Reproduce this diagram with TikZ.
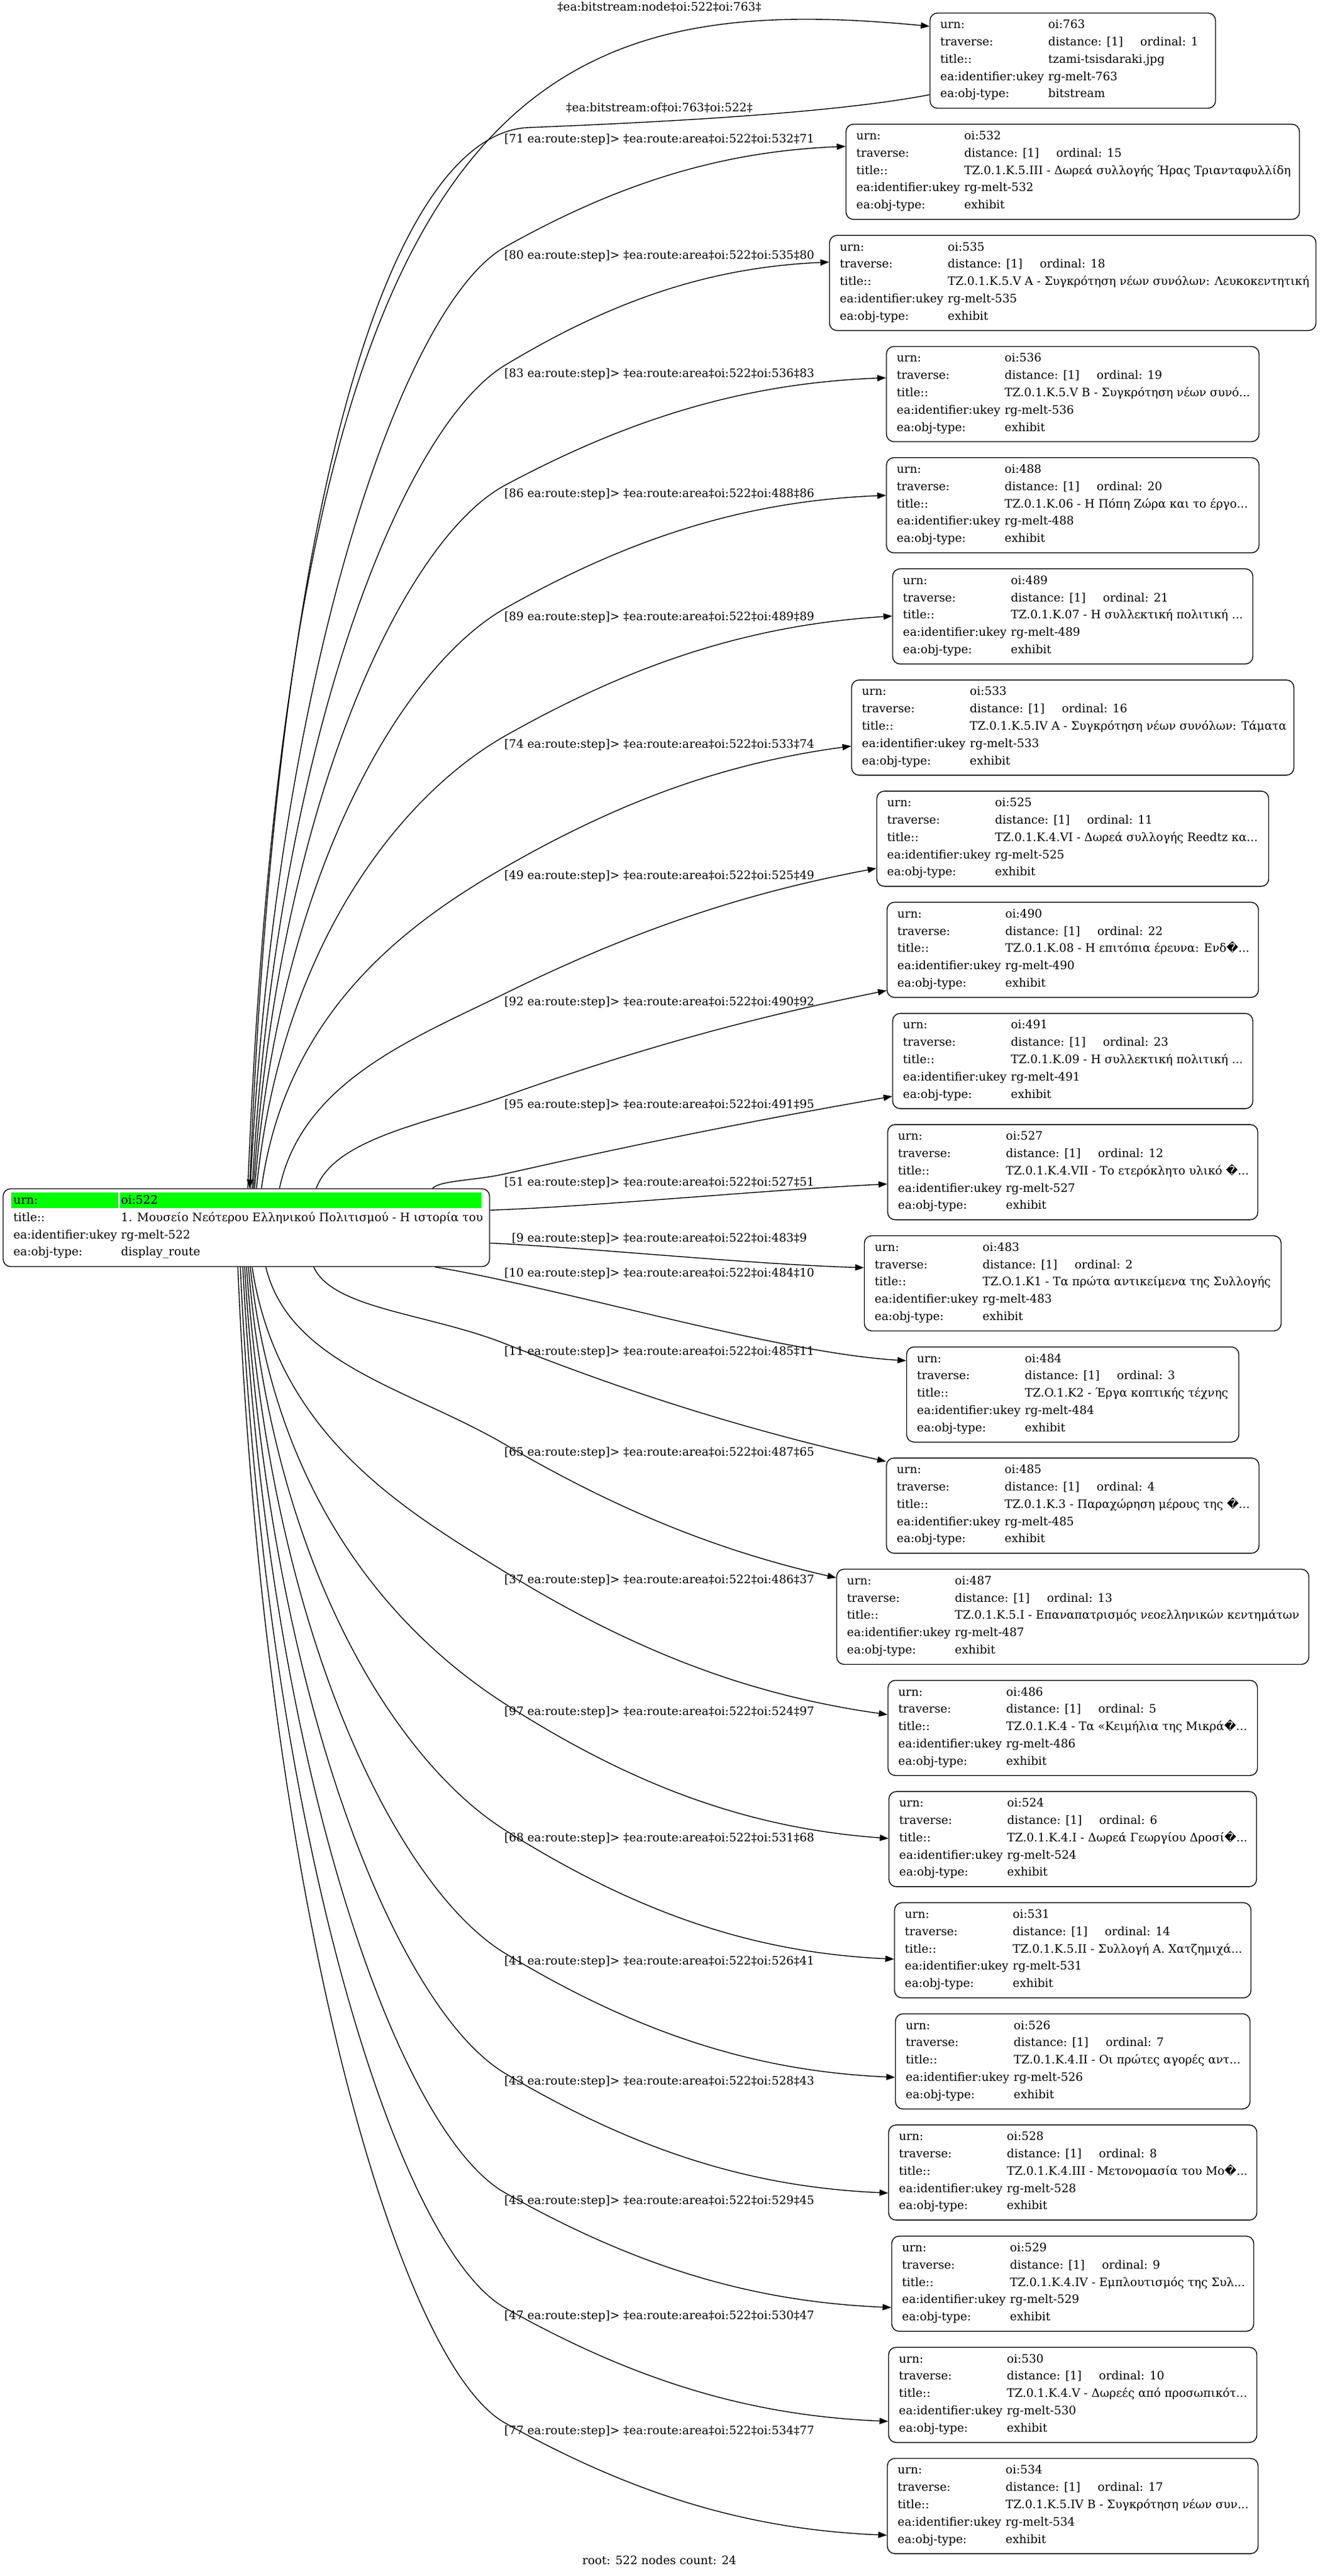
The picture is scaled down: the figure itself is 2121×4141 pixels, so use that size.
\documentclass[tikz,border=0pt]{standalone}
\usepackage{fontspec}
\setmainfont{DejaVu Serif}
\newfontfamily\repfont{DejaVu Sans}
\usetikzlibrary{arrows.meta,calc}
\definecolor{greencell}{RGB}{0,255,0}
\newcommand\rep{{\repfont\char"FFFD}}
\newcommand\nf{\fontsize{9.33pt}{11pt}\selectfont}
% one record node: #1 id, #2 top (px), #3 width (px), #4 ordinal, #5 title, #6 type
\newcommand\mkchild[6]{%
  \node[recbox, minimum width={#3*0.5pt}] (n#1) at (1724.5,{#2+76.5}) {};
  \node[txt] (n#1a) at ($(n#1.north west)+(17,25.5)$) {urn:};
  \node[txt] (n#1b) at ($(n#1.north west)+(190.5,25.5)$) {oi:#1};
  \node[txt] (n#1c) at ($(n#1.north west)+(17,53.3)$) {traverse:};
  \node[txt] (n#1d) at ($(n#1.north west)+(190.5,53.3)$) {distance: [1]};
  \node[txt] (n#1e) at ($(n#1.north west)+(338.5,53.3)$) {ordinal: #4};
  \node[txt] (n#1f) at ($(n#1.north west)+(17,81.1)$) {title::};
  \node[txt] (n#1g) at ($(n#1.north west)+(190.5,81.1)$) {#5};
  \node[txt] (n#1h) at ($(n#1.north west)+(17,108.9)$) {ea:identifier:ukey};
  \node[txt] (n#1i) at ($(n#1.north west)+(190.5,108.9)$) {rg-melt-#1};
  \node[txt] (n#1j) at ($(n#1.north west)+(17,136.7)$) {ea:obj-type:};
  \node[txt] (n#1k) at ($(n#1.north west)+(190.5,136.7)$) {#6};
}
% curved connector: #1 start, #2 end, #3 y (px) where it crosses x=812px
\newcommand\gedge[3]{%
  \draw[conn] let \p1=(#1), \p2=(#2), \p3=(406pt,{-0.5pt*#3}),
     \n1={((\y2)-(\y3))/((\x2)-(\x3))},
     \n2={min(1,abs((\y2)-(\y1))/500)},
     \n3={\n1*(1+0.9*\n2)},
     \n4={\n1*(1-0.86*\n2)} in
    (#1) .. controls ({\x1+0.1*((\x3)-(\x1))},{\y1+0.55*((\y3)-(\y1))})
            and ({\x3-0.4*((\x3)-(\x1))},{\y3-0.4*((\x3)-(\x1))*\n3}) .. (\p3)
         .. controls ({\x3+0.35*((\x2)-(\x3))},{\y3+0.35*((\x2)-(\x3))*\n3})
            and ({\x2-0.35*((\x2)-(\x3))},{\y2-0.35*((\x2)-(\x3))*\n4}) .. (#2);
}
\begin{document}
\begin{tikzpicture}[x=0.5pt,y=-0.5pt,
  recbox/.style={draw, line width=0.7pt, rounded corners=6pt, inner sep=0pt, minimum height=76.5pt},
  txt/.style={anchor=base west, inner sep=0pt, font=\nf},
  lbl/.style={anchor=base, inner sep=0pt, font=\nf},
  conn/.style={draw, line width=0.7pt, -{Triangle[length=7pt,width=5pt]}}]
\fill[white] (0,0) rectangle (2121,4141);
\useasboundingbox (0,0) rectangle (2121,4141);

% root record
\node[recbox, minimum width=391pt, minimum height=62.5pt] (root) at (396,1973.5) {};
\fill[greencell] ($(root.north west)+(14,7)$) rectangle ($(root.north west)+(186,32)$);
\fill[greencell] ($(root.north west)+(189,7)$) rectangle ($(root.north west)+(770,32)$);
\node[txt] (r1) at ($(root.north west)+(17,25.5)$) {urn:};
\node[txt] (r2) at ($(root.north west)+(190,25.5)$) {oi:522};
\node[txt] (r3) at ($(root.north west)+(17,53.2)$) {title::};
\node[txt] (r4) at ($(root.north west)+(190,53.2)$) {1. Μουσείο Νεότερου Ελληνικού Πολιτισμού - Η ιστορία του};
\node[txt] (r5) at ($(root.north west)+(17,80.9)$) {ea:identifier:ukey};
\node[txt] (r6) at ($(root.north west)+(190,80.9)$) {rg-melt-522};
\node[txt] (r7) at ($(root.north west)+(17,108.6)$) {ea:obj-type:};
\node[txt] (r8) at ($(root.north west)+(190,108.6)$) {display\_route};

% child records
\mkchild{763}{21.0}{459}{1}{tzami-tsisdaraki.jpg}{bitstream}
\mkchild{532}{199.7}{729}{15}{TZ.0.1.K.5.III - Δωρεά συλλογής Ήρας Τριανταφυλλίδη}{exhibit}
\mkchild{535}{378.4}{782}{18}{TZ.0.1.K.5.V A - Συγκρότηση νέων συνόλων: Λευκοκεντητική}{exhibit}
\mkchild{536}{557.0}{599}{19}{TZ.0.1.K.5.V B - Συγκρότηση νέων συνό...}{exhibit}
\mkchild{488}{735.7}{599}{20}{TZ.0.1.K.06 - Η Πόπη Ζώρα και το έργο...}{exhibit}
\mkchild{489}{914.4}{579}{21}{TZ.0.1.K.07 - Η συλλεκτική πολιτική ...}{exhibit}
\mkchild{533}{1093.1}{711}{16}{TZ.0.1.K.5.IV A - Συγκρότηση νέων συνόλων: Τάματα}{exhibit}
\mkchild{525}{1271.8}{630}{11}{TZ.0.1.K.4.VI - Δωρεά συλλογής Reedtz κα...}{exhibit}
\mkchild{490}{1450.4}{597}{22}{TZ.0.1.K.08 - Η επιτόπια έρευνα: Ενδ\rep...}{exhibit}
\mkchild{491}{1629.1}{579}{23}{TZ.0.1.K.09 - Η συλλεκτική πολιτική ...}{exhibit}
\mkchild{527}{1807.8}{595}{12}{TZ.0.1.K.4.VII - Το ετερόκλητο υλικό \rep...}{exhibit}
\mkchild{483}{1986.5}{670}{2}{TZ.O.1.K1 - Τα πρώτα αντικείμενα της Συλλογής}{exhibit}
\mkchild{484}{2165.2}{534}{3}{TZ.O.1.K2 - Έργα κοπτικής τέχνης}{exhibit}
\mkchild{485}{2343.8}{599}{4}{TZ.0.1.K.3 - Παραχώρηση μέρους της \rep...}{exhibit}
\mkchild{487}{2522.5}{759}{13}{TZ.0.1.K.5.I - Επαναπατρισμός νεοελληνικών κεντημάτων}{exhibit}
\mkchild{486}{2701.2}{594}{5}{TZ.0.1.K.4 - Τα «Κειμήλια της Μικρά\rep...}{exhibit}
\mkchild{524}{2879.9}{591}{6}{TZ.0.1.K.4.I - Δωρεά Γεωργίου Δροσί\rep...}{exhibit}
\mkchild{531}{3058.6}{573}{14}{TZ.0.1.K.5.II - Συλλογή Α. Χατζημιχά...}{exhibit}
\mkchild{526}{3237.2}{570}{7}{TZ.0.1.K.4.II - Οι πρώτες αγορές αντ...}{exhibit}
\mkchild{528}{3415.9}{592}{8}{TZ.0.1.K.4.III - Μετονομασία του Μο\rep...}{exhibit}
\mkchild{529}{3594.6}{582}{9}{TZ.0.1.K.4.IV - Εμπλουτισμός της Συλ...}{exhibit}
\mkchild{530}{3773.3}{592}{10}{TZ.0.1.K.4.V - Δωρεές από προσωπικότ...}{exhibit}
\mkchild{534}{3952.0}{596}{17}{TZ.0.1.K.5.IV B - Συγκρότηση νέων συν...}{exhibit}

% connectors
\draw[conn] ($(root.north west)+(394,0)$) .. controls (470,150) and (850,-20) .. ($(n763.north west)+(0,22)$);
\draw[conn] ($(n763.north west)+(0,132)$) .. controls (1350,180) and (1100,195) .. (850,205)
   .. controls (650,213) and (450,700) .. ($(root.north west)+(397,0)$);
\gedge{$(root.north west)+(398,0)$}{$(n532.north west)+(0,36.3)$}{397}
\gedge{$(root.north west)+(401,0)$}{$(n535.north west)+(0,43.6)$}{587}
\gedge{$(root.north west)+(403,0)$}{$(n536.north west)+(0,51)$}{780}
\gedge{$(root.north west)+(405,0)$}{$(n488.north west)+(0,61.3)$}{978}
\gedge{$(root.north west)+(408,0)$}{$(n489.north west)+(0,76.6)$}{1183}
\gedge{$(root.north west)+(416,0)$}{$(n533.north west)+(0,106.9)$}{1394}
\gedge{$(root.north west)+(445,0)$}{$(n525.north west)+(0,124.7)$}{1597}
\gedge{$(root.north west)+(504,0)$}{$(n490.north west)+(0,142.6)$}{1762}
\gedge{$(root.north west)+(691,0)$}{$(n491.north west)+(0,133.9)$}{1887}
\draw[conn] ($(root.north east)+(0,35)$) .. controls (950,1940) and (1200,1915) .. ($(n527.north west)+(0,96.2)$);
\draw[conn] ($(root.north east)+(0,88)$) .. controls (950,2006) and (1200,2032) .. ($(n483.north west)+(0,52)$);
\draw[conn] ($(root.south west)+(695,0)$) .. controls (900,2070) and (1250,2175) .. ($(n484.north west)+(0,22.8)$);
\gedge{$(root.south west)+(500,0)$}{$(n485.north west)+(0,6.2)$}{2160}
\gedge{$(root.south west)+(423,0)$}{$(n487.north west)+(0,14.5)$}{2322}
\gedge{$(root.south west)+(401,0)$}{$(n486.north west)+(0,55.8)$}{2527}
\gedge{$(root.south west)+(398,0)$}{$(n524.north west)+(0,76.1)$}{2739}
\gedge{$(root.south west)+(395,0)$}{$(n531.north west)+(0,91.4)$}{2942}
\gedge{$(root.south west)+(392,0)$}{$(n526.north west)+(0,102.8)$}{3140}
\gedge{$(root.south west)+(389,0)$}{$(n528.north west)+(0,110.1)$}{3333}
\gedge{$(root.south west)+(386,0)$}{$(n529.north west)+(0,115.4)$}{3525}
\gedge{$(root.south west)+(382,0)$}{$(n530.north west)+(0,119.7)$}{3710}
\gedge{$(root.south west)+(378,0)$}{$(n534.north west)+(0,124)$}{3895}

% connector labels
\node[lbl] (L1) at (1060,17.7) {‡ea:bitstream:node‡oi:522‡oi:763‡};
\node[lbl] (L2) at (1060,179.7) {‡ea:bitstream:of‡oi:763‡oi:522‡};
\node[lbl] (L71) at (1060,229.7) {[71 ea:route:step]> ‡ea:route:area‡oi:522‡oi:532‡71};
\node[lbl] (L80) at (1060,416.7) {[80 ea:route:step]> ‡ea:route:area‡oi:522‡oi:535‡80};
\node[lbl] (L83) at (1060,606.7) {[83 ea:route:step]> ‡ea:route:area‡oi:522‡oi:536‡83};
\node[lbl] (L86) at (1060,799.7) {[86 ea:route:step]> ‡ea:route:area‡oi:522‡oi:488‡86};
\node[lbl] (L89) at (1060,997.7) {[89 ea:route:step]> ‡ea:route:area‡oi:522‡oi:489‡89};
\node[lbl] (L74) at (1060,1202.7) {[74 ea:route:step]> ‡ea:route:area‡oi:522‡oi:533‡74};
\node[lbl] (L49) at (1060,1413.7) {[49 ea:route:step]> ‡ea:route:area‡oi:522‡oi:525‡49};
\node[lbl] (L92) at (1060,1616.7) {[92 ea:route:step]> ‡ea:route:area‡oi:522‡oi:490‡92};
\node[lbl] (L95) at (1060,1781.7) {[95 ea:route:step]> ‡ea:route:area‡oi:522‡oi:491‡95};
\node[lbl] (L51) at (1060,1906.7) {[51 ea:route:step]> ‡ea:route:area‡oi:522‡oi:527‡51};
\node[lbl] (L9) at (1060,1996.7) {[9 ea:route:step]> ‡ea:route:area‡oi:522‡oi:483‡9};
\node[lbl] (L10) at (1060,2052.7) {[10 ea:route:step]> ‡ea:route:area‡oi:522‡oi:484‡10};
\node[lbl] (L11) at (1060,2178.7) {[11 ea:route:step]> ‡ea:route:area‡oi:522‡oi:485‡11};
\node[lbl] (L65) at (1060,2340.7) {[65 ea:route:step]> ‡ea:route:area‡oi:522‡oi:487‡65};
\node[lbl] (L37) at (1060,2545.7) {[37 ea:route:step]> ‡ea:route:area‡oi:522‡oi:486‡37};
\node[lbl] (L97) at (1060,2757.7) {[97 ea:route:step]> ‡ea:route:area‡oi:522‡oi:524‡97};
\node[lbl] (L68) at (1060,2960.7) {[68 ea:route:step]> ‡ea:route:area‡oi:522‡oi:531‡68};
\node[lbl] (L41) at (1060,3158.7) {[41 ea:route:step]> ‡ea:route:area‡oi:522‡oi:526‡41};
\node[lbl] (L43) at (1060,3351.7) {[43 ea:route:step]> ‡ea:route:area‡oi:522‡oi:528‡43};
\node[lbl] (L45) at (1060,3543.7) {[45 ea:route:step]> ‡ea:route:area‡oi:522‡oi:529‡45};
\node[lbl] (L47) at (1060,3728.7) {[47 ea:route:step]> ‡ea:route:area‡oi:522‡oi:530‡47};
\node[lbl] (L77) at (1060,3913.7) {[77 ea:route:step]> ‡ea:route:area‡oi:522‡oi:534‡77};
\node[lbl] (foot) at (1060,4122.7) {root: 522 nodes count: 24};
\end{tikzpicture}
\end{document}
